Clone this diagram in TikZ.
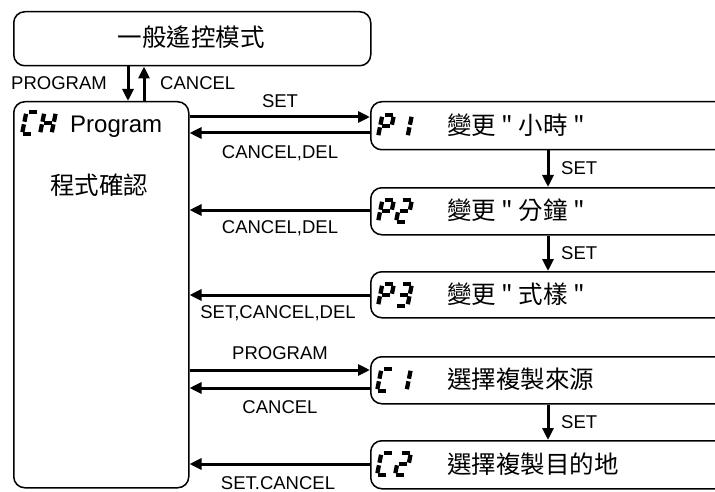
\documentclass[tikz,border=0pt]{standalone}
\usepackage{fontspec}
\setmainfont{Liberation Sans}
\newfontfamily\cjk{Noto Sans CJK TC}
\usetikzlibrary{arrows.meta,calc}
\tikzset{
  box/.style={draw, line width=1.5pt, rounded corners=11pt, inner sep=0pt, anchor=north west},
  arr/.style={line width=3pt, -{Triangle[length=12pt,width=11pt]}},
  lbl/.style={font=\fontsize{18.5}{19}\selectfont, inner sep=0pt},
  cjktext/.style={font=\cjk\fontsize{24.5}{25}\selectfont, inner sep=0pt},
  segline/.style={line width=4.3pt},
}
\newcommand\sgA{\draw[segline] (2.2,22)--(10.2,22);}
\newcommand\sgB{\draw[segline] (11.5,20.2)--(11.5,12.3);}
\newcommand\sgC{\draw[segline] (11.5,9.7)--(11.5,1.8);}
\newcommand\sgD{\draw[segline] (1.3,0)--(9.3,0);}
\newcommand\sgE{\draw[segline] (0,1.8)--(0,9.7);}
\newcommand\sgF{\draw[segline] (0,12.3)--(0,20.2);}
\newcommand\sgG{\draw[segline] (1.8,11)--(9.7,11);}
\newcommand\segchar[3]{\begin{scope}[shift={(#1,#2)}, y=1pt, xslant=0.2]#3\end{scope}}
\begin{document}
\begin{tikzpicture}[x=1pt,y=-1pt]
\useasboundingbox (0,0) rectangle (715,492);
\clip (0,0) rectangle (715,492);
% boxes
\node[box, minimum width=357pt, minimum height=54pt] (top) at (13,11) {};
\node[cjktext] (toptext) at (191,37) {一般遙控模式};
\node[box, minimum width=175pt, minimum height=386pt] (ch) at (13,101) {};
\node[box, minimum width=380pt, minimum height=48pt] (p1) at (370,101) {};
\node[box, minimum width=380pt, minimum height=47pt] (p2) at (370,187) {};
\node[box, minimum width=380pt, minimum height=46pt] (p3) at (370,271) {};
\node[box, minimum width=380pt, minimum height=47pt] (c1) at (370,356) {};
\node[box, minimum width=380pt, minimum height=48pt] (c2) at (370,440) {};
% left box contents
\segchar{22}{134}{\sgA\sgD\sgE\sgF}
\segchar{40}{134}{\sgB\sgC\sgE\sgF\sgG}
\node[font=\fontsize{24}{24}\selectfont, inner sep=0pt, anchor=base west] (prog) at (70,133) {Program};
\node[cjktext] (chk) at (99,185) {程式確認};
% right box contents
\segchar{378}{137}{\sgA\sgB\sgE\sgF\sgG}
\segchar{396}{137}{\sgB\sgC}
\node[cjktext, anchor=west] (p1t) at (447,125) {變更 " 小時 "};
\segchar{378}{222}{\sgA\sgB\sgE\sgF\sgG}
\segchar{396}{222}{\sgA\sgB\sgG\sgE\sgD}
\node[cjktext, anchor=west] (p2t) at (447,210.5) {變更 " 分鐘 "};
\segchar{378}{306}{\sgA\sgB\sgE\sgF\sgG}
\segchar{396}{306}{\sgA\sgB\sgG\sgC\sgD}
\node[cjktext, anchor=west] (p3t) at (447,294) {變更 " 式樣 "};
\segchar{377}{391}{\sgA\sgD\sgE\sgF}
\segchar{395}{391}{\sgB\sgC}
\node[cjktext, anchor=west] (c1t) at (447,379.5) {選擇複製來源};
\segchar{377}{475}{\sgA\sgD\sgE\sgF}
\segchar{395}{475}{\sgA\sgB\sgG\sgE\sgD}
\node[cjktext, anchor=west] (c2t) at (447,464) {選擇複製目的地};
% top arrows
\coordinate (dx) at (128,0);
\coordinate (ux) at (144,0);
\draw[arr] (top.south -| dx) -- (ch.north -| dx);
\draw[arr] (ch.north -| ux) -- (top.south -| ux);
\node[lbl, anchor=east] (lprog) at (107,83) {PROGRAM};
\node[lbl, anchor=west] (lcan) at (160,83) {CANCEL};
% horizontal arrows
\coordinate (y1) at (0,117);
\coordinate (y2) at (0,133);
\coordinate (y3) at (0,210);
\coordinate (y4) at (0,295);
\coordinate (y5) at (0,370);
\coordinate (y6) at (0,388);
\coordinate (y7) at (0,464);
\draw[arr] (ch.east |- y1) -- (p1.west |- y1);
\draw[arr] (p1.west |- y2) -- (ch.east |- y2);
\draw[arr] (p2.west |- y3) -- (ch.east |- y3);
\draw[arr] (p3.west |- y4) -- (ch.east |- y4);
\draw[arr] (ch.east |- y5) -- (c1.west |- y5);
\draw[arr] (c1.west |- y6) -- (ch.east |- y6);
\draw[arr] (c2.west |- y7) -- (ch.east |- y7);
\node[lbl] (l1) at (280,101) {SET};
\node[lbl] (l2) at (280,153) {CANCEL,DEL};
\node[lbl] (l3) at (280,228) {CANCEL,DEL};
\node[lbl] (l4) at (278,313) {SET,CANCEL,DEL};
\node[lbl] (l5) at (280,353) {PROGRAM};
\node[lbl] (l6) at (280,407) {CANCEL};
\node[lbl] (l7) at (278,483) {SET.CANCEL};
% vertical SET arrows
\coordinate (sx) at (548,0);
\draw[arr] (p1.south -| sx) -- (p2.north -| sx);
\draw[arr] (p2.south -| sx) -- (p3.north -| sx);
\draw[arr] (c1.south -| sx) -- (c2.north -| sx);
\node[lbl, anchor=west] (s1) at (561,168) {SET};
\node[lbl, anchor=west] (s2) at (561,253) {SET};
\node[lbl, anchor=west] (s3) at (561,422) {SET};
\end{tikzpicture}
\end{document}
